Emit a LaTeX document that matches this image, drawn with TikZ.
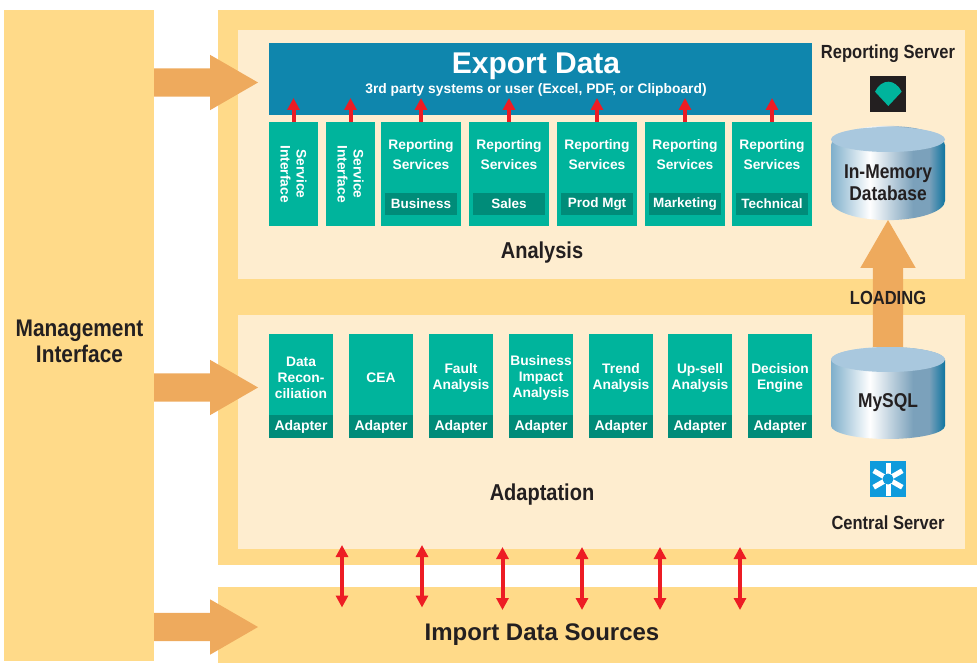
\documentclass[tikz,border=0pt]{standalone}
\usepackage{fontspec}
\setmainfont{Liberation Sans}
\newfontfamily\condfont{Liberation Sans}[FakeStretch=0.87]
\usepackage{tikz}
\usetikzlibrary{shapes.geometric}
\usetikzlibrary{shapes.arrows}
\usetikzlibrary{positioning}
\usetikzlibrary{arrows.meta}
\usetikzlibrary{calc}

\definecolor{panelcol}{HTML}{FFDA89}
\definecolor{creamcol}{HTML}{FEEDCF}
\definecolor{exportcol}{HTML}{0F86AD}
\definecolor{cardcol}{HTML}{00B49C}
\definecolor{tagcol}{HTML}{008C79}
\definecolor{orangecol}{HTML}{EEAA5D}
\definecolor{redcol}{HTML}{ED1C24}
\definecolor{inkcol}{HTML}{231F20}
\definecolor{dbtopcol}{HTML}{A9C8DE}
\definecolor{dbleftcol}{HTML}{7FAFCB}
\definecolor{dbmidcol}{HTML}{7BA1BB}
\definecolor{dbrightcol}{HTML}{0F75A0}
\definecolor{iconbluecol}{HTML}{0F9BDC}

\pgfdeclarehorizontalshading{dbshade}{100bp}{color(0bp)=(dbleftcol); color(25bp)=(dbleftcol);
	color(42bp)=(white); color(61bp)=(dbmidcol); color(68bp)=(dbmidcol); color(75bp)=(dbrightcol); color(100bp)=(dbrightcol)}

\begin{document}
\begin{tikzpicture}[x=1pt,y=-1pt,>={Triangle[length=12pt,width=12pt]},
	every node/.style={inner sep=0pt,outer sep=0pt},
	panel/.style={anchor=north west,fill=panelcol},
	inner panel/.style={anchor=north west,fill=creamcol},
	main card/.style={fill=cardcol,text=white,font=\fontsize{13.8}{16}\selectfont\bfseries,align=center},
	adapter card/.style={main card,minimum width=64pt,minimum height=81pt},
	adapter tag/.style={fill=tagcol,text=white,font=\fontsize{14}{16}\selectfont\bfseries,minimum width=64pt,minimum height=23pt},
	report card/.style={main card,minimum width=80pt,minimum height=104pt},
	report tag/.style={fill=tagcol,text=white,font=\fontsize{13.5}{16}\selectfont\bfseries,minimum width=72pt,minimum height=22pt},
	service card/.style={main card,rotate=-90,minimum width=104pt,minimum height=49pt},
	title node/.style={text=inkcol,font=\condfont\fontsize{23}{26}\selectfont\bfseries,align=center},
	server node/.style={text=inkcol,font=\condfont\fontsize{19}{22}\selectfont\bfseries,align=center},
	big arrow/.style={single arrow,anchor=tail,fill=orangecol,inner ysep=14pt,single arrow head extend=13.5pt,single arrow tip angle=60,
		minimum width=55pt,minimum height=104pt},
	db node/.style={cylinder,shape border rotate=90,aspect=0.44,anchor=shape center,shading=dbshade,minimum width=114pt,minimum height=92pt,
		text=inkcol,font=\condfont\fontsize{20}{22}\selectfont\bfseries,align=center},
	db top/.style={fill=dbtopcol},
	red arrow/.style={draw=redcol,fill=redcol,line width=4pt},
	icon box/.style={minimum size=36pt}]

	\useasboundingbox (0,0) rectangle (977,663);

	% background
	\node[panel,minimum width=150pt,minimum height=651pt] (mgmt) at (4,10) {};
	\node[panel,minimum width=759pt,minimum height=555pt] (outer) at (218,10) {};
	\node[panel,minimum width=759pt,minimum height=76pt] (import) at (218,587) {};
	\node[inner panel,minimum width=727pt,minimum height=249pt] (analysis) at (238,30) {};
	\node[inner panel,minimum width=727pt,minimum height=234pt] (adaptation) at (238,315) {};

	\node[title node,font=\condfont\fontsize{24}{26}\selectfont\bfseries] (mgmttext) at (79.5,341) {Management\\Interface};
	\node[title node] (analysistext) at (542,253) {Analysis};
	\node[title node] (adaptationtext) at (542,495) {Adaptation};
	\node[title node,font=\fontsize{24}{28}\selectfont\bfseries] (importtext) at (542,635) {Import Data Sources};

	% export box
	\node[fill=exportcol,minimum width=543pt,minimum height=72pt] (export) at (540.5,79) {};
	\node[text=white,font=\fontsize{30}{32}\selectfont\bfseries] (exporttitle) at (536,66) {Export Data};
	\node[text=white,font=\fontsize{13.8}{15}\selectfont\bfseries] (exportsub) at (536,90) {3rd party systems or user (Excel, PDF, or Clipboard)};

	% analysis cards
	\node[service card] (si) at (293.5,174) {Service\\Interface};
	\node[service card] (sj) at (350.5,174) {Service\\Interface};
	\node[report card] (rb) at (421,174) {};
	\node[report card] (rs) [right of=rb,node distance=88pt] {};
	\node[report card] (rp) [right of=rs,node distance=88pt] {};
	\node[report card] (rm) [right of=rp,node distance=88pt] {};
	\node[report card] (rt) [right of=rm,node distance=87pt] {};

	\foreach \n/\t in {rb/Business,rs/Sales,rp/Prod Mgt,rm/Marketing,rt/Technical} {
		\node[main card,fill=none] (\n text) at ($(\n.north)+(0,33)$) {Reporting\\[4pt]Services};
		\node[report tag] (\n tag) at ($(\n.north)+(0,82)$) {\t};
	}

	\foreach \n in {si,sj,rb,rs,rp,rm,rt} {
		\path (\n.center) ++(0,-52) coordinate (\n up);
		\coordinate (\n end) at ($(\n up)+(0,-24)$);
		\draw[red arrow,->] (\n up) -- (\n end);
	}

	% adaptation cards
	\node[adapter card] (dr) at (301,374.5) {};
	\node[adapter card] (ce) [right of=dr,node distance=80pt] {};
	\node[adapter card] (fa) [right of=ce,node distance=80pt] {};
	\node[adapter card] (bi) [right of=fa,node distance=80pt] {};
	\node[adapter card] (ta) [right of=bi,node distance=80pt] {};
	\node[adapter card] (ua) [right of=ta,node distance=79pt] {};
	\node[adapter card] (de) [right of=ua,node distance=80pt] {};

	\foreach \n/\t in {dr/Data\\Recon-\\ciliation,ce/CEA,fa/Fault\\Analysis,bi/Business\\Impact\\Analysis,
		ta/Trend\\Analysis,ua/Up-sell\\Analysis,de/Decision\\Engine} {
		\node[main card,fill=none] (\n text) at ($(\n.center)+(0,3)$) {\t};
		\node[adapter tag] (\n tag) [below=0pt of \n] {Adapter};
	}

	% side arrows
	\node[big arrow] (toexport) at (154,82.5) {};
	\node[big arrow] (toadapt) at (154,387.5) {};
	\node[big arrow] (toimport) at (154,627) {};

	% servers
	\node[big arrow,shape border rotate=90,inner sep=15pt,minimum height=127pt,
		single arrow head extend=12.5pt] (loading) at (888,347) {};
	\node[server node] (loadtext) at (888,298) {LOADING};

	\node[db node] (mem) at (888,173) {In-Memory\\Database};
	\fill[db top] (888,139.5) ellipse (57 and 12.5);
	\node[db node,text height=20pt] (sql) at (888,393) {MySQL};
	\fill[db top] (888,359.5) ellipse (57 and 12.5);

	\node[server node] (reptext) at (888,54) {Reporting Server};
	\node[server node] (centext) at (888,523) {Central Server};

	\node[icon box,fill=inkcol] (repicon) at (888,94) {};
	\fill[cardcol] (888.3,106) -- (875,91.7) .. controls (878,85.5) and (883,81.7) .. (888.3,81.7)
		.. controls (893.6,81.7) and (898.6,85.5) .. (901.7,91.7) -- cycle;

	\node[icon box,fill=iconbluecol] (cenicon) at (888,479) {};
	\foreach \a in {30,90,150,210,270,330} {
		\draw[white,line width=5pt] (cenicon.center) -- ++(\a:16.5);
	}
	\fill[iconbluecol] (cenicon.center) circle (5.5);

	% links to import
	\foreach \n/\x/\t/\b in {a/342/545/607.5,b/422/545/607.5,c/502.5/547/610,d/582/547/610,e/660/547/610,f/740/547/610} {
		\coordinate (link\n top) at (\x,\t);
		\coordinate (link\n bot) at (\x,\b);
		\draw[red arrow,<->] (link\n top) -- (link\n bot);
	}
\end{tikzpicture}
\end{document}
